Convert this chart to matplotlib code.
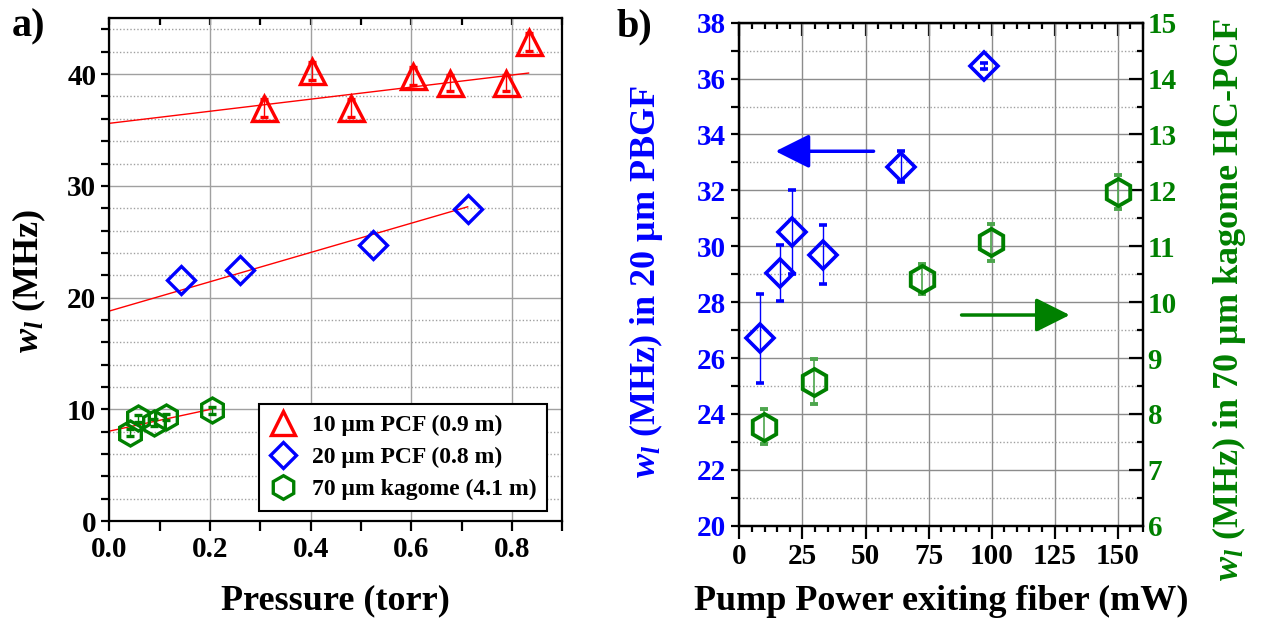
import matplotlib
matplotlib.use("Agg")
import matplotlib.pyplot as plt
import numpy as np
from matplotlib.ticker import MultipleLocator, NullFormatter
from matplotlib.patches import ArrowStyle

plt.rcParams['font.family'] = 'Liberation Serif'
plt.rcParams['font.weight'] = 'bold'
plt.rcParams['axes.labelweight'] = 'bold'
plt.rcParams['mathtext.fontset'] = 'custom'
plt.rcParams['mathtext.rm'] = 'Liberation Serif:bold'
plt.rcParams['mathtext.it'] = 'Liberation Serif:italic:bold'
plt.rcParams['mathtext.bf'] = 'Liberation Serif:bold'

RED = '#ff0000'
BLUE = '#0000ff'
GREEN = '#008000'
GRID = '#a0a0a0'

# ---- panel a: linewidth vs pressure ----
p10 = [0.307, 0.403, 0.480, 0.603, 0.677, 0.789, 0.833]
w10 = [37.0, 40.3, 37.0, 39.8, 39.2, 39.2, 42.9]
e10 = [0.8, 0.8, 0.8, 0.8, 0.7, 0.7, 0.8]

p20 = [0.142, 0.260, 0.524, 0.712]
w20 = [21.6, 22.5, 24.7, 27.9]

p70 = [0.040, 0.056, 0.089, 0.112, 0.203]
w70 = [7.9, 9.2, 8.8, 9.3, 9.9]
e70 = [0.3, 0.3, 0.3, 0.3, 0.3]

# linear fits: (intercept, slope, x_end)
fit10 = (35.6, 5.4, 0.833)
fit20 = (18.8, 13.1, 0.712)
fit70 = (8.05, 9.7, 0.203)

labels_a = ['10 \u03bcm PCF (0.9 m)', '20 \u03bcm PCF (0.8 m)', '70 \u03bcm kagome (4.1 m)']

# ---- panel b: linewidth vs pump power ----
pow20 = [8.1, 15.9, 20.8, 33.2, 64.1, 97.0]
wb20 = [26.7, 29.05, 30.5, 29.7, 32.85, 36.45]
eb20 = [1.6, 1.0, 1.5, 1.05, 0.55, 0.1]

pow70 = [9.7, 29.7, 72.6, 99.9, 150.0]
wb70 = [7.77, 8.58, 10.41, 11.07, 11.97]
eb70 = [0.31, 0.40, 0.27, 0.33, 0.30]

# arrows (x_from, x_to, y)
arrow_left = (53.2, 14.3, 33.4)
arrow_right = (88.1, 131.0, 9.77)

fig = plt.figure(figsize=(12.61, 6.24), dpi=100)
ax = fig.add_axes([0.0868, 0.165, 0.3591, 0.8057])
bx = fig.add_axes([0.5864, 0.1575, 0.3199, 0.8061])


def style_spines(a):
    for s in a.spines.values():
        s.set_linewidth(1.6)
        s.set_color('black')


# ================= panel a =================
ax.set_xlim(0, 0.9)
ax.set_ylim(0, 45)
ax.set_axisbelow(True)
ax.xaxis.set_major_locator(MultipleLocator(0.2))
ax.xaxis.set_minor_locator(MultipleLocator(0.1))
ax.yaxis.set_major_locator(MultipleLocator(10))
ax.yaxis.set_minor_locator(MultipleLocator(2))
ax.xaxis.set_major_formatter(matplotlib.ticker.FormatStrFormatter('%.1f'))
ax.tick_params(which='both', direction='out', top=False, right=False,
               width=1.6, labelsize=21)
ax.tick_params(axis='x', which='both', length=7)
ax.tick_params(axis='y', which='both', length=6)
ax.grid(which='major', color=GRID, lw=1, ls='-')
ax.yaxis.grid(which='minor', color=GRID, lw=1, ls=(0, (1, 1.5)))
style_spines(ax)

sa = ax.secondary_xaxis('top')
sa.xaxis.set_major_locator(MultipleLocator(0.1))
sa.xaxis.set_major_formatter(NullFormatter())
sa.tick_params(direction='in', length=5, width=1.6)

for (b0, k, xe) in (fit10, fit20, fit70):
    xx = np.array([0.0, xe])
    ax.plot(xx, b0 + k * xx, color=RED, lw=1, zorder=2)

h1 = ax.errorbar(p10, w10, yerr=e10, fmt='^', ms=18, mfc='none', mec=RED, mew=2.4,
                 ecolor=RED, elinewidth=1, capsize=3, zorder=3)
h2, = ax.plot(p20, w20, 'D', ms=14, mfc='none', mec=BLUE, mew=2.4, zorder=3)
h3 = ax.errorbar(p70, w70, yerr=e70, fmt='h', ms=18, mfc='none', mec=GREEN, mew=2.4,
                 ecolor=GREEN, elinewidth=1, capsize=3, zorder=3)

lh1, = ax.plot([], [], '^', ms=17, mfc='none', mec=RED, mew=2.4)
lh2, = ax.plot([], [], 'D', ms=13, mfc='none', mec=BLUE, mew=2.4)
lh3, = ax.plot([], [], 'h', ms=17, mfc='none', mec=GREEN, mew=2.4)
leg = ax.legend([lh1, lh2, lh3], labels_a, loc='lower right',
                bbox_to_anchor=(0.966, 0.02), borderaxespad=0, fontsize=17,
                fancybox=False, framealpha=1, edgecolor='black',
                labelspacing=0.45, handletextpad=0.6, borderpad=0.45,
                handlelength=1.2)
leg.get_frame().set_linewidth(1.5)

ax.set_ylabel(r'$w_l$ (MHz)', fontsize=26)
ax.yaxis.set_label_coords(-0.135, 0.477)
ax.set_xlabel('Pressure (torr)', fontsize=26)
ax.xaxis.set_label_coords(0.5, -0.125)

# ================= panel b =================
bx.set_xlim(0, 160)
bx.set_ylim(20, 38)
bx.set_axisbelow(True)
bx.xaxis.set_major_locator(MultipleLocator(25))
bx.xaxis.set_minor_locator(MultipleLocator(5))
bx.yaxis.set_major_locator(MultipleLocator(2))
bx.yaxis.set_minor_locator(MultipleLocator(1))
bx.tick_params(which='both', direction='out', top=False, right=False,
               width=1.6, labelsize=21)
bx.tick_params(axis='x', which='major', length=9)
bx.tick_params(axis='x', which='minor', length=4)
bx.tick_params(axis='y', which='both', length=6, labelcolor=BLUE)
bx.grid(which='major', color='#8c8c8c', lw=1, ls='-')
bx.yaxis.grid(which='minor', color=GRID, lw=1, ls=(0, (1, 1.5)))
style_spines(bx)

sb = bx.secondary_xaxis('top')
sb.xaxis.set_major_locator(MultipleLocator(25))
sb.xaxis.set_minor_locator(MultipleLocator(5))
sb.xaxis.set_major_formatter(NullFormatter())
sb.tick_params(which='major', direction='in', length=9, width=1.6)
sb.tick_params(which='minor', direction='in', length=4, width=1.6)

br = bx.twinx()
br.set_ylim(6, 15)
br.yaxis.set_major_locator(MultipleLocator(1))
br.yaxis.set_minor_locator(MultipleLocator(0.5))
br.tick_params(which='major', direction='in', length=10, width=1.6,
               labelsize=21, labelcolor=GREEN)
br.tick_params(which='minor', direction='in', length=4, width=1.6)
style_spines(br)

bx.errorbar(pow20, wb20, yerr=eb20, fmt='D', ms=14, mfc='none', mec=BLUE, mew=2.6,
            ecolor=BLUE, elinewidth=1, capsize=3, zorder=3)
br.errorbar(pow70, wb70, yerr=eb70, fmt='h', ms=19.5, mfc='none', mec=GREEN, mew=2.8,
            ecolor='#4da64d', elinewidth=1.2, capsize=3, zorder=3)

astyle = ArrowStyle('-|>', head_length=0.7, head_width=0.35)
bx.annotate('', xy=(arrow_left[1], arrow_left[2]), xytext=(arrow_left[0], arrow_left[2]),
            arrowprops=dict(arrowstyle=astyle, color=BLUE, lw=2.5, mutation_scale=30,
                            shrinkA=0, shrinkB=0))
br.annotate('', xy=(arrow_right[1], arrow_right[2]), xytext=(arrow_right[0], arrow_right[2]),
            arrowprops=dict(arrowstyle=astyle, color=GREEN, lw=2.5, mutation_scale=30,
                            shrinkA=0, shrinkB=0))

bx.set_xlabel('Pump Power exiting fiber (mW)', fontsize=26)
bx.xaxis.set_label_coords(0.5, -0.117)
bx.set_ylabel('$w_l$ (MHz) in 20 \u03bcm PBGF', fontsize=26, color=BLUE)
bx.yaxis.set_label_coords(-0.184, 0.486)
br.set_ylabel('$w_l$ (MHz) in 70 \u03bcm kagome HC-PCF', fontsize=26,
              color=GREEN, rotation=90)
br.yaxis.set_label_coords(1.166, 0.45)

fig.text(0.0095, 0.942, 'a)', fontsize=29, va='baseline')
fig.text(0.489, 0.942, 'b)', fontsize=29, va='baseline')

fig.savefig('out.png', dpi=100)
